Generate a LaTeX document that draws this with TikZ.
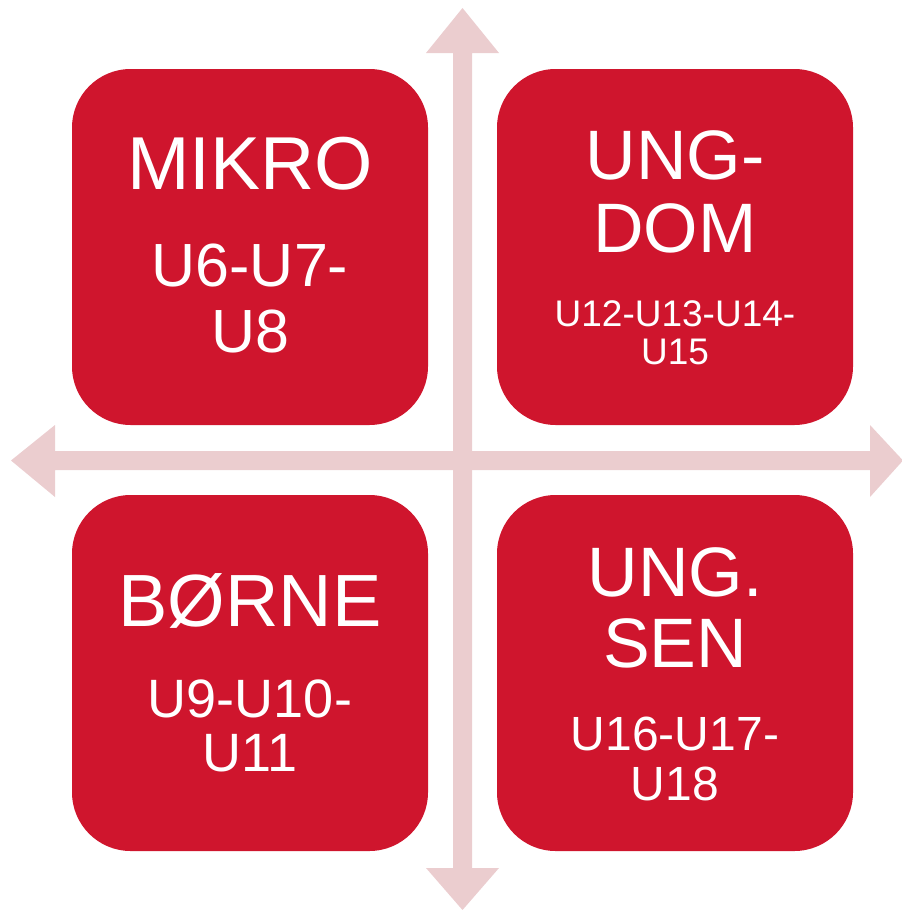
\documentclass[tikz,border=0pt]{standalone}
\usepackage{fontspec}
\setmainfont{Liberation Sans}
\definecolor{boxred}{RGB}{207,21,45}
\definecolor{axispink}{RGB}{235,205,207}
\begin{document}
\begin{tikzpicture}[x=0.75pt,y=-0.75pt,
  quad/.style={fill=boxred, draw=none, rounded corners=44pt, minimum width=267pt, minimum height=267pt, inner sep=0pt},
  lbl/.style={text=white, anchor=base, inner sep=0pt},
  axisfill/.style={fill=axispink, draw=none}]
\useasboundingbox (0,0) rectangle (902,910);
% axes
\coordinate (vtop) at (462.5,8);
\coordinate (vbot) at (462.5,910);
\coordinate (hleft) at (11,460.5);
\coordinate (hright) at (903,460.5);
\fill[axisfill] (vtop) -- (499,53) -- (472,53) -- (472,868) -- (499,868) -- (vbot) -- (426,868) -- (453,868) -- (453,53) -- (426,53) -- cycle;
\fill[axisfill] (hleft) -- (55,425) -- (55,451) -- (870,451) -- (870,425) -- (hright) -- (870,497) -- (870,470) -- (55,470) -- (55,497) -- cycle;
% boxes
\node[quad] (tl) at (250,247) {};
\node[quad] (tr) at (675,247) {};
\node[quad] (bl) at (250,673) {};
\node[quad] (br) at (675,673) {};
% labels
\node[lbl, font=\fontsize{56.25}{60}\selectfont] (mikro) at (250,189) {MIKRO};
\node[lbl, font=\fontsize{45.75}{50}\selectfont] (mikroa) at (250,286) {U6-U7-};
\node[lbl, font=\fontsize{45.75}{50}\selectfont] (mikrob) at (250,352) {U8};
\node[lbl, font=\fontsize{52.5}{56}\selectfont] (ungdoma) at (675,179) {UNG-};
\node[lbl, font=\fontsize{52.5}{56}\selectfont] (ungdomb) at (675,252) {DOM};
\node[lbl, font=\fontsize{27.75}{30}\selectfont] (ungdomc) at (675,326.5) {U12-U13-U14-};
\node[lbl, font=\fontsize{27.75}{30}\selectfont] (ungdomd) at (675,364) {U15};
\node[lbl, font=\fontsize{55.5}{60}\selectfont] (borne) at (250,626) {BØRNE};
\node[lbl, font=\fontsize{40.5}{44}\selectfont] (bornea) at (250,717) {U9-U10-};
\node[lbl, font=\fontsize{40.5}{44}\selectfont] (borneb) at (250,771) {U11};
\node[lbl, font=\fontsize{52.5}{56}\selectfont] (ungsena) at (675,596) {UNG.};
\node[lbl, font=\fontsize{52.5}{56}\selectfont] (ungsenb) at (675,667) {SEN};
\node[lbl, font=\fontsize{36}{40}\selectfont] (ungsenc) at (675,750) {U16-U17-};
\node[lbl, font=\fontsize{36}{40}\selectfont] (ungsend) at (675,800) {U18};
\end{tikzpicture}
\end{document}
